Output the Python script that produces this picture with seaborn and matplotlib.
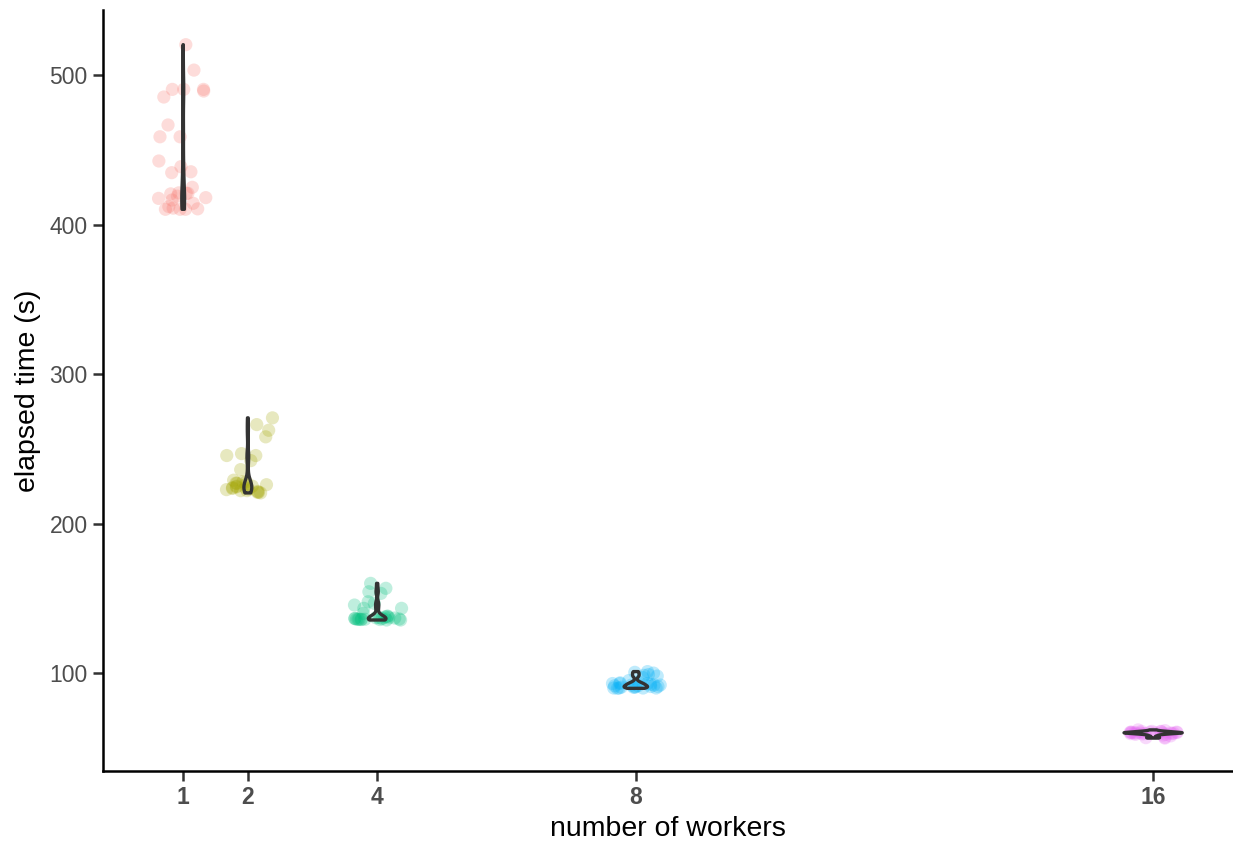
import numpy as np
import pandas as pd
import matplotlib
matplotlib.use("Agg")
import matplotlib.pyplot as plt
import seaborn as sns

# Elapsed time (seconds) of repeated runs for each worker count
workers = [1, 2, 4, 8, 16]
time_1 = [520.3, 503.3, 490.4, 490.4, 490.4, 489.3, 485.3, 466.6, 458.7, 458.7,
          442.5, 438.7, 435.3, 434.7, 424.9, 420.9, 417.5, 420.9, 420.5, 421.2,
          416.4, 414.2, 410.2, 410.2, 410.2, 410.5, 411.0, 412.0, 419.0, 418.0]
time_2 = [270.7, 266.2, 262.4, 258.0, 246.8, 245.5, 245.5, 242.1, 236.1, 229.0,
          228.0, 228.0, 227.0, 227.0, 226.0, 226.0, 225.0, 225.0, 224.5, 224.0,
          224.0, 223.5, 223.0, 222.7, 222.0, 222.0, 221.0, 220.5, 220.8, 221.5]
time_4 = [160.0, 156.7, 154.4, 153.3, 147.7, 146.6, 145.5, 143.3, 143.3, 139.9,
          138.0, 137.5, 137.0, 137.0, 136.5, 136.5, 136.5, 136.0, 136.0, 136.0,
          136.0, 135.8, 135.8, 135.5, 135.5, 137.0, 138.0, 136.0, 136.2, 136.8]
time_8 = [101.0, 100.5, 100.0, 99.0, 98.5, 98.0, 97.0, 95.0, 94.0, 93.5,
          93.0, 93.0, 92.5, 92.0, 92.0, 91.5, 91.5, 91.0, 91.0, 91.0,
          90.5, 90.5, 90.5, 90.0, 90.0, 90.0, 90.0, 89.8, 92.0, 93.0]
time_16 = [62.0, 61.5, 61.0, 61.0, 61.0, 60.8, 60.5, 60.5, 60.5, 60.3,
           60.3, 60.2, 60.0, 60.0, 60.0, 60.0, 59.8, 59.8, 59.5, 59.5,
           59.5, 59.3, 59.0, 59.0, 58.5, 58.0, 57.0, 56.8, 56.5, 60.0]
y_ticks = [100, 200, 300, 400, 500]
palette = ["#F8766D", "#A3A500", "#00BF7D", "#00B0F6", "#E76BF3"]

series = [time_1, time_2, time_4, time_8, time_16]
df = pd.DataFrame({
    "workers": np.repeat(workers, [len(s) for s in series]),
    "elapsed": np.concatenate(series),
})
df["group"] = df["workers"].astype(str)

sns.set_theme(style="white")
plt.rcParams["font.family"] = ["Liberation Sans", "DejaVu Sans"]

fig = plt.figure(figsize=(12.33, 8.43), dpi=100)
ax = fig.add_axes([103 / 1233, 72 / 843, 1129 / 1233, 761 / 843])

np.random.seed(3)
sns.stripplot(data=df, x="workers", y="elapsed", hue="group",
              palette=palette, hue_order=[str(w) for w in workers],
              native_scale=True, jitter=0.4, size=9.5, alpha=0.25,
              linewidth=0, legend=False, ax=ax, zorder=2)

sns.violinplot(data=df, x="workers", y="elapsed", native_scale=True,
               fill=False, inner=None, cut=0, density_norm="area",
               width=0.9, bw_method="silverman", bw_adjust=0.5,
               color="#333333", linewidth=2.4, ax=ax, zorder=3)

ax.set_xlim(-0.24, 17.22)
ax.set_ylim(34.5, 543.5)
ax.set_xticks(workers)
ax.set_xticklabels([str(w) for w in workers], fontweight="bold")
ax.set_yticks(y_ticks)
ax.set_yticklabels([str(t) for t in y_ticks])
ax.tick_params(axis="both", which="major", length=7, width=1.8,
               color="#333333", labelcolor="#4D4D4D", labelsize=16.5,
               direction="out", bottom=True, left=True, pad=4)
ax.set_xlabel("number of workers", fontsize=20.5, color="black", labelpad=5)
ax.set_ylabel("elapsed time (s)", fontsize=20.5, color="black", labelpad=6)

for side in ["top", "right"]:
    ax.spines[side].set_visible(False)
for side in ["left", "bottom"]:
    ax.spines[side].set_visible(True)
    ax.spines[side].set_color("black")
    ax.spines[side].set_linewidth(1.8)
ax.grid(False)

fig.savefig("out.png", dpi=100)
